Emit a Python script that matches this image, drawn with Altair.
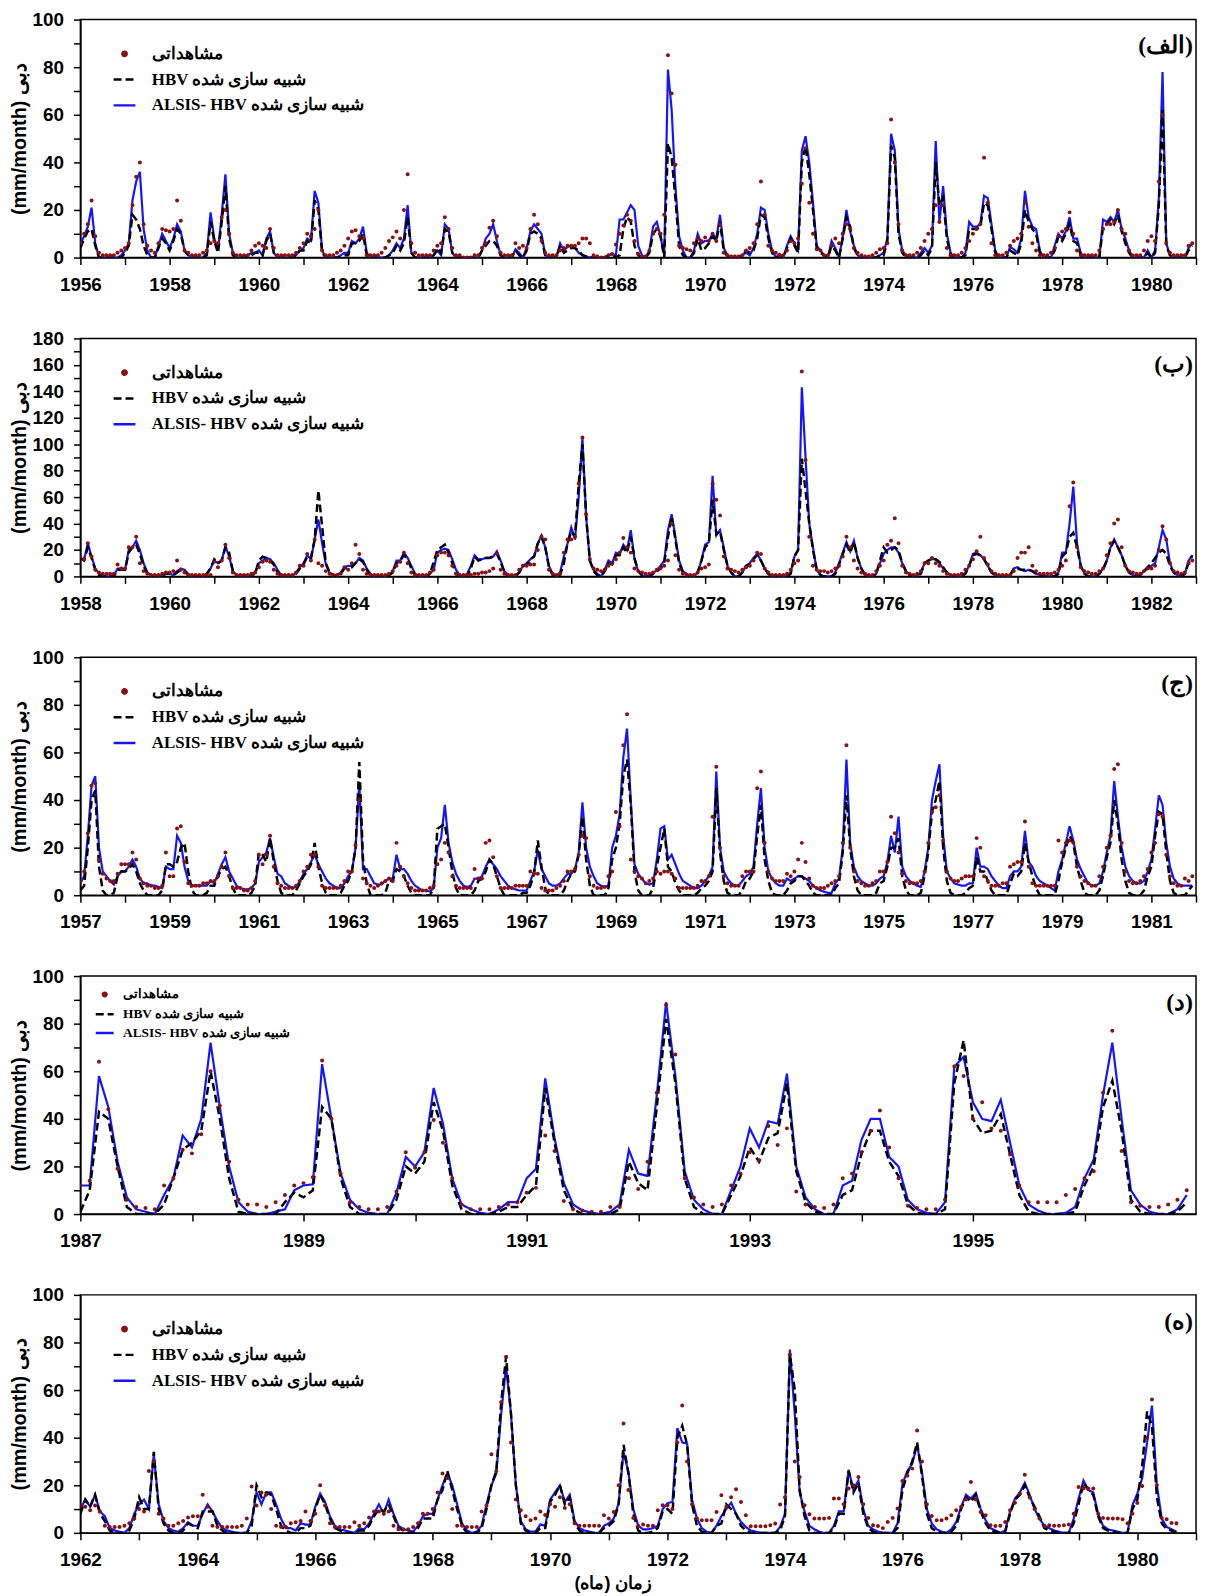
import altair as alt
import pandas as pd

OBS = "مشاهداتی"
HBV = "HBV شبیه سازی شده"
ALS = "ALSIS- HBV شبیه سازی شده"
SERIES = [OBS, HBV, ALS]
Y_TITLE = "(mm/month)  دبی"
X_TITLE = "زمان (ماه)"
PANEL_LABELS = ["(الف)", "(ب)", "(ج)", "(د)", "(ه)"]

# ---------------- panel 1 (1956-1980) ----------------
p1_start, p1_end, p1_ymax = 1956, 1981, 100
p1_als = [
    6, 9, 13, 21, 6, 0, 0, 0, 0, 0, 0, 1,
    3, 6, 24, 32, 36, 12, 3, 0, 0, 5, 10, 7,
    4, 8, 14, 11, 3, 1, 0, 0, 0, 0, 2, 19,
    8, 3, 18, 35, 10, 2, 0, 0, 0, 1, 2, 2,
    3, 1, 8, 11, 2, 0, 0, 0, 0, 1, 1, 3,
    4, 8, 7, 28, 23, 3, 0, 0, 0, 0, 1, 2,
    2, 7, 6, 8, 13, 2, 0, 0, 0, 0, 0, 1,
    3, 6, 4, 8, 22, 2, 0, 0, 0, 0, 0, 1,
    3, 1, 14, 12, 2, 0, 0, 0, 0, 0, 0, 0,
    3, 8, 10, 14, 7, 1, 0, 0, 0, 3.5, 2, 0,
    4, 11, 14, 12, 10, 1, 0, 0, 0, 6, 3, 4.5,
    5, 4, 2, 1, 0.5, 0, 0, 0, 0, 0, 1, 1.5,
    1, 16, 16, 19, 22, 20, 5, 1, 0, 3, 13, 15,
    9, 1, 79, 62, 30, 9, 3, 0, 0, 3, 10, 6,
    7, 7, 10, 8, 18, 4, 1, 0, 0, 0, 1, 2,
    1, 4, 10, 21, 20, 10, 3, 0, 1.5, 0, 5, 9,
    6, 3, 45, 51, 40, 23, 5, 3, 1, 0, 7, 4,
    0, 9, 20, 11, 5, 1, 0, 0, 0, 0, 0, 1,
    2, 8, 52, 45, 12, 3, 1, 0, 0, 0, 2, 4,
    2, 5, 49, 15, 30, 10, 2, 0, 0, 0, 2, 15,
    13, 13, 14, 26, 25, 14, 3, 0, 0, 0, 4.5, 3.5,
    2, 8, 28, 17, 13, 12, 3, 0, 0, 0, 5, 10,
    8, 11, 17, 8, 8, 2, 0, 0, 0, 0, 0, 16,
    15, 17, 15, 20, 12, 8, 3, 0, 0, 0, 0, 3,
    0, 3, 25, 78, 6, 1, 0, 0, 0, 0, 4, 6,
]
p1_hbv = [
    4, 8, 11, 12, 5, 0, 0, 0, 0, 0, 0, 0,
    2, 5, 18, 16, 12, 5, 1, 0, 0, 4, 8, 6,
    3, 7, 12, 10, 3, 1, 0, 0, 0, 0, 1, 15,
    7, 2, 15, 30, 8, 1, 0, 0, 0, 0, 1, 2,
    2, 1, 7, 10, 2, 0, 0, 0, 0, 0, 1, 3,
    3, 7, 6, 24, 20, 2, 0, 0, 0, 0, 0, 1,
    1, 6, 6, 7, 10, 1, 0, 0, 0, 0, 0, 1,
    2, 5, 3, 6, 17, 2, 0, 0, 0, 0, 0, 1,
    4, 2, 12, 11, 2, 0, 0, 0, 0, 0, 0, 0,
    3, 5, 7, 7, 5, 1, 0, 0, 0, 3, 1, 0,
    3, 10, 11, 10, 8, 1, 0, 0, 0, 5, 2, 3,
    4, 4, 3, 1, 0.5, 0, 0, 0, 0, 0, 1, 1,
    0, 1, 12, 17, 15, 5, 1, 0, 0, 2, 10, 12,
    9, 0, 48, 42, 25, 5, 1, 0, 0, 2, 8, 3,
    4, 6, 9, 7, 15, 3, 0.5, 0, 0, 0, 1, 3,
    2, 3, 8, 18, 17, 8, 2, 0, 0.5, 0, 4, 8,
    5, 2, 40, 47, 35, 20, 4, 2, 1, 0, 5, 3,
    0, 8, 17, 13, 4, 1, 0, 0, 0, 0, 0, 1,
    1, 7, 47, 42, 10, 2, 0, 0, 0, 0, 1, 3,
    1, 4, 40, 22, 25, 8, 1, 0, 0, 0, 1, 12,
    12, 12, 13, 23, 22, 12, 2, 0, 0, 0, 3, 2,
    1, 6, 20, 15, 12, 10, 2, 0, 0, 0, 3, 9,
    7, 10, 14, 7, 6, 1, 0, 0, 0, 0, 0, 13,
    14, 16, 14, 18, 11, 6, 2, 0, 0, 0, 0, 2,
    0, 2, 22, 62, 5, 1, 0, 0, 0, 0, 3, 5,
]
p1_obs = [
    6, 10, 14, 24, 9, 2, 1, 1, 1, 1, 2, 3,
    4, 6, 22, 34, 40, 14, 5, 3, 2, 6, 12, 11.5,
    11, 12, 24, 15.5, 3, 2, 1, 1, 1, 2, 3, 6,
    7, 6, 17, 20, 10, 2, 1, 1, 1, 1, 3, 5,
    6, 5, 4, 12, 4, 1, 1, 1, 1, 1, 2, 4,
    6, 10, 9, 12, 20, 3, 1, 1, 1, 2, 3, 5,
    8, 11, 11.5, 9, 8, 1, 1, 1, 1, 2, 4, 7,
    8.5, 11, 8, 20, 35, 6, 2, 1, 1, 1, 1, 3,
    5, 6, 17, 12, 4, 1, 1, 0, 0, 0, 1, 1,
    4, 6, 12.5, 15.5, 9, 2, 1, 1, 1, 6, 4, 5,
    4, 12, 18, 14, 7, 2, 1, 1, 1, 3, 4, 5,
    5, 5, 6, 8, 8, 6, 1, 0.5, 0, 0, 1, 1.5,
    5.5, 10, 13.5, 18, 15.5, 7, 1.5, 0.5, 0.5, 3, 10, 12,
    10, 18, 85, 69, 39, 5, 4, 3.5, 3, 6, 8, 7,
    8.5, 7, 10, 7, 14, 2, 1, 0.5, 0.5, 0.5, 1, 3,
    4, 6, 14, 32, 18, 5, 3, 2, 1, 1, 3, 7,
    6, 8, 31, 46, 23, 10, 3.5, 3, 1, 1, 5, 8,
    6, 10, 14, 12, 4, 2, 1, 0.5, 0.5, 1, 2, 3.5,
    4, 6, 58, 40, 14, 3, 1, 1, 1, 2, 4, 7,
    10, 12, 22, 15, 22, 4, 1, 1, 1, 2, 4, 7,
    10, 12, 14, 42, 23, 6, 1, 1, 1, 2, 5, 7,
    8, 10, 23, 13, 6, 3, 1, 1, 1, 2, 4, 9,
    11, 12, 19, 10, 3, 1, 1, 1, 1, 1, 3, 12,
    14, 14, 15, 20, 12, 10, 3, 1, 1, 1, 3, 7,
    9, 7, 32, 60, 6, 2, 1, 1, 1, 1, 5, 6,
]

# ---------------- panel 2 (1958-1982) ----------------
p2_start, p2_end, p2_ymax = 1958, 1983, 180
p2_als = [
    13, 13, 25, 15, 6, 2, 0.5, 0, 0, 0.5, 6, 6,
    5, 20, 22, 27, 20, 10, 3, 1, 0, 0, 1, 2,
    2, 1, 4, 6, 5, 2, 0, 0, 0, 0, 2, 6,
    12, 10, 12, 23, 15, 4, 1, 0, 0, 0, 1, 3,
    10, 12, 14, 13, 10, 5, 1, 0, 0, 0, 3, 7,
    10, 16, 13, 28, 43, 25, 9, 3, 1, 1, 3, 7,
    8, 8, 10, 14, 12, 6, 2, 0, 0, 0, 0, 1,
    4, 12, 12, 18, 14, 8, 2, 0, 0, 0, 2, 5,
    18, 20, 21, 20, 13, 5, 1, 0, 2, 8, 16, 13,
    13, 14, 14, 15, 19, 12, 4, 1, 0, 0, 3, 8,
    10, 13, 15, 25, 31, 22, 8, 2, 0, 3, 15, 25,
    37, 28, 60, 105, 45, 12, 5, 2, 0, 5, 12, 10,
    18, 17, 24, 20, 35, 13, 4, 1, 0, 0, 2, 5,
    8, 12, 35, 47, 30, 12, 4, 2, 0, 0, 3, 12,
    24, 26, 76, 31, 35, 22, 8, 3, 0, 0, 3, 8,
    10, 14, 17, 12, 6, 2, 0, 0, 0, 0, 0, 3,
    15, 20, 143, 90, 40, 22, 5, 1, 0, 0, 0, 3,
    10, 18, 26, 19, 27, 14, 6, 1, 0, 0, 2, 10,
    17, 20, 22, 22, 18, 10, 4, 1, 0, 0, 3, 10,
    12, 13, 13, 10, 6, 3, 1, 0, 0, 0, 3, 8,
    17, 18, 16, 13, 8, 3, 1, 0, 0, 0, 0, 6,
    7, 5, 4, 5, 4, 2, 1, 0, 0, 0, 0, 3,
    18, 18, 40, 68, 25, 8, 2, 0, 0, 0, 2, 6,
    12, 22, 28, 22, 16, 8, 3, 1, 0, 1, 4, 6,
    8, 10, 22, 35, 28, 10, 3, 1, 0, 2, 12, 16,
]
p2_hbv = [
    14, 12, 22, 14, 5, 1, 0, 0, 0, 0, 5, 5,
    5, 18, 22, 24, 17, 8, 2, 0, 0, 0, 1, 2,
    2, 1, 3, 5, 4, 1, 0, 0, 0, 0, 2, 6,
    13, 10, 12, 22, 18, 4, 1, 0, 0, 0, 1, 2,
    12, 15, 14, 12, 9, 3, 0, 0, 0, 0, 2, 6,
    9, 15, 14, 28, 65, 38, 10, 3, 1, 0, 2, 6,
    7, 7, 10, 13, 11, 5, 1, 0, 0, 0, 0, 1,
    3, 10, 12, 16, 13, 6, 1, 0, 0, 0, 2, 11,
    20, 22, 24, 18, 10, 2, 0, 0, 0, 6, 15, 12,
    13, 14, 14, 15, 17, 11, 3, 0, 0, 0, 3, 8,
    8, 13, 15, 25, 30, 22, 7, 1, 0, 1, 10, 25,
    34, 30, 70, 100, 45, 12, 4, 1, 0, 4, 10, 9,
    16, 16, 22, 18, 30, 14, 4, 1, 0, 0, 2, 4,
    6, 10, 30, 45, 28, 10, 3, 1, 0, 0, 3, 12,
    22, 25, 58, 32, 34, 20, 8, 3, 0, 0, 3, 8,
    9, 13, 16, 12, 6, 2, 0, 0, 0, 0, 0, 2,
    15, 20, 89, 65, 40, 20, 5, 1, 0, 0, 0, 2,
    9, 17, 24, 18, 26, 14, 6, 1, 0, 0, 2, 12,
    22, 18, 20, 22, 20, 10, 4, 1, 0, 0, 2, 10,
    12, 13, 13, 11, 7, 3, 1, 0, 0, 0, 2, 8,
    16, 17, 16, 13, 8, 3, 1, 0, 0, 0, 1, 6,
    6, 5, 5, 5, 4, 2, 1, 0, 0, 0, 0, 2,
    15, 18, 30, 33, 22, 8, 2, 0, 0, 0, 2, 5,
    12, 22, 27, 22, 16, 8, 3, 1, 0, 1, 4, 7,
    10, 14, 18, 20, 17, 8, 3, 1, 0, 2, 10, 16,
]
p2_obs = [
    15, 13, 25, 15, 5, 3, 2, 2, 2, 2, 9, 6,
    6, 22, 22, 30, 10, 4, 2, 1, 1, 1, 2, 3,
    3, 4, 12, 5, 3, 1, 1, 1, 1, 1, 1, 1,
    11, 7, 12, 24, 14, 3, 1, 1, 1, 1, 2, 3,
    7, 11, 12, 11, 5, 2, 1, 1, 1, 1, 3, 8,
    8, 17, 12, 28, 10, 8, 4, 2, 1, 1, 2, 7,
    5, 10, 24, 17, 5, 2, 1, 1, 1, 1, 1, 2,
    4, 8, 11, 18, 10, 3, 1, 1, 1, 1, 3, 5,
    16, 18, 18, 16, 8, 2, 1, 1, 1, 1, 2, 2,
    3, 3, 4, 6, 17, 5, 2, 1, 1, 1, 5, 8,
    8, 9, 9, 20, 30, 28, 5, 2, 1, 2, 18, 28,
    28, 30, 70, 105, 47, 13, 6, 5, 4, 5, 8, 10,
    13, 18, 29, 22, 18, 6, 4, 3, 2, 2, 3, 5,
    6, 8, 12, 40, 16, 5, 2, 1, 1, 1, 3, 6,
    7, 9, 70, 58, 46, 15, 6, 5, 4, 3, 5, 7,
    8, 12, 18, 17, 6, 3, 1, 1, 1, 1, 2, 5,
    10, 12, 155, 88, 30, 8, 5, 4, 4, 3, 4, 6,
    8, 15, 30, 22, 12, 6, 3, 2, 1, 1, 4, 8,
    12, 24, 27, 44, 25, 8, 3, 2, 1, 2, 4, 10,
    10, 14, 10, 8, 4, 2, 1, 1, 1, 2, 5, 8,
    13, 19, 30, 14, 9, 4, 2, 1, 1, 1, 1, 4,
    14, 18, 18, 22, 8, 4, 2, 2, 2, 2, 3, 5,
    8, 12, 53, 71, 22, 7, 4, 3, 2, 2, 4, 6,
    16, 25, 40, 43, 22, 8, 4, 3, 2, 2, 4, 6,
    6, 8, 20, 38, 28, 10, 4, 3, 2, 3, 10, 12,
]

# ---------------- panel 3 (1957-1981) ----------------
p3_start, p3_end, p3_ymax = 1957, 1982, 100
p3_als = [
    5, 8, 25, 46, 50, 20, 10, 8, 6, 4.5, 8, 10,
    10, 12, 15, 12, 7, 5, 5, 4, 4, 3.5, 3, 12,
    11, 11, 25, 22, 12, 6, 4, 4, 4, 4, 4, 6,
    5, 9, 13, 16, 10, 7, 4, 3, 2.5, 2.5, 3, 5,
    14, 16, 18, 24, 16, 9, 8, 5, 4, 3, 3.5, 6,
    9, 11, 14, 17, 13, 10, 7, 5, 4, 3, 3, 5,
    8, 10, 20, 47, 11, 11, 8, 5, 4.5, 4.5, 6, 7,
    7, 17, 11, 11, 9, 6, 4, 3, 2, 2, 1.5, 3,
    20, 24, 38, 22, 14, 9, 6, 4, 3.5, 4, 7, 7,
    8, 12, 15, 13, 11, 8, 6, 4, 3, 2.5, 2, 2,
    2, 6, 10, 19, 11, 8, 5, 4, 4, 5, 7, 9,
    9, 11, 18, 39, 20, 12, 8, 5, 4, 3.5, 4, 20,
    25, 34, 58, 70, 40, 13, 9, 7, 5, 4.5, 5, 15,
    28, 29, 15, 17, 13, 9, 6, 5, 4, 3, 3, 4,
    6, 8, 12, 52, 20, 10, 7, 5, 4, 4, 6, 8,
    9, 12, 30, 45, 20, 10, 7, 5, 4, 4, 7, 6,
    7, 8, 8, 7, 6, 4, 3, 2, 1.5, 1, 1, 5,
    7, 20, 57, 22, 12, 8, 6, 5, 4, 4, 5, 7,
    8, 14, 25, 18, 33, 12, 8, 6, 5, 4, 3.5, 10,
    20, 40, 48, 55, 25, 10, 7, 5, 4.5, 4, 4, 5,
    5, 20, 12, 12, 11, 8, 6, 4, 3, 3, 8, 10,
    10, 12, 27, 14, 12, 8, 6, 5, 4, 3, 2, 10,
    15, 22, 29, 23, 15, 11, 8, 5, 4, 4, 5, 10,
    18, 25, 48, 33, 20, 12, 8, 6, 5, 5, 6, 10,
    15, 28, 42, 38, 22, 12, 7, 5, 4, 4, 4, 4,
]
p3_hbv = [
    2, 4, 20, 40, 44, 12, 2, 0, 0, 1, 8, 10,
    10, 11, 13, 10, 5, 2, 0, 0, 0, 0, 2, 13,
    13, 12, 14, 20, 22, 10, 2, 0, 0, 0, 1, 4,
    4, 8, 11, 12, 8, 3, 0, 0, 0, 0, 1, 4,
    18, 17, 14, 24, 14, 6, 1, 0, 0, 0, 2, 5,
    8, 10, 13, 22, 12, 5, 1, 0, 0, 0, 1, 4,
    6, 10, 20, 56, 15, 5, 0, 0, 0, 0, 1, 6,
    6, 11, 10, 8, 4, 1, 0, 0, 0, 0, 0, 3,
    28, 29, 30, 20, 10, 3, 0, 0, 0, 0, 2, 6,
    7, 10, 15, 13, 8, 3, 0, 0, 0, 0, 0, 1,
    1, 4, 9, 23, 12, 3, 0, 0, 0, 0, 2, 6,
    9, 10, 17, 33, 15, 4, 0, 0, 0, 0, 3, 15,
    20, 30, 50, 57, 38, 10, 2, 0, 0, 0, 3, 12,
    20, 28, 12, 10, 5, 2, 0, 0, 0, 0, 1, 3,
    4, 6, 10, 45, 18, 6, 1, 0, 0, 0, 2, 6,
    7, 10, 25, 38, 15, 6, 1, 0, 0, 0, 2, 5,
    6, 8, 8, 6, 4, 1, 0, 0, 0, 0, 0, 3,
    5, 18, 42, 20, 8, 2, 0, 0, 0, 0, 1, 5,
    6, 12, 20, 20, 24, 8, 2, 0, 0, 0, 1, 8,
    18, 35, 40, 48, 20, 6, 1, 0, 0, 0, 1, 3,
    4, 16, 10, 10, 6, 2, 0, 0, 0, 0, 5, 9,
    8, 10, 22, 14, 8, 3, 0, 0, 0, 0, 0, 6,
    14, 20, 25, 22, 12, 6, 1, 0, 0, 0, 2, 8,
    16, 22, 40, 30, 15, 6, 1, 0, 0, 0, 2, 8,
    12, 25, 35, 34, 18, 6, 1, 0, 0, 0, 2, 4,
]
p3_obs = [
    6, 10, 26, 46, 47, 15, 9, 7, 6, 6, 9, 13,
    13, 13, 18, 15, 7, 5, 4, 4, 3, 3, 4, 18,
    8, 8, 28, 29, 14, 5, 4, 4, 4, 5, 5, 6,
    6, 8, 12, 18, 8, 3, 3, 3, 2, 2, 3, 6,
    17, 13, 17, 25, 12, 5, 4, 3, 3, 3, 4, 6,
    10, 12, 17, 17, 12, 4, 3, 3, 3, 3, 4, 6,
    10, 10, 21, 40, 7, 5, 4, 3, 4, 5, 6, 7,
    6, 22, 12, 8, 5, 3, 2, 2, 2, 2, 3, 4,
    13, 15, 22, 18, 8, 4, 3, 3, 3, 3, 11, 7,
    7, 22, 23, 16, 8, 3, 3, 3, 3, 4, 4, 4,
    4, 10, 9, 9, 3, 2, 2, 2, 3, 4, 6, 10,
    10, 11, 17, 25, 24, 8, 4, 3, 3, 3.5, 8, 10,
    35, 29, 63, 76, 15, 10, 8, 7, 5, 6, 7, 10,
    9, 10, 10, 9, 7, 3, 3, 3, 3, 3, 4, 6,
    6, 8, 33, 54, 20, 8, 5, 4, 4, 4, 8, 10,
    10, 10, 45, 52, 22, 10, 7, 6, 6, 6, 9, 8,
    10, 15, 22, 14, 7, 4, 3, 3, 3, 4, 5, 6,
    8, 22, 63, 20, 10, 6, 5, 4, 4, 5, 6, 10,
    10, 14, 33, 26, 18, 9, 6, 5, 5, 5, 6, 10,
    22, 35, 37, 42, 23, 10, 7, 6, 6, 7, 8, 8,
    8, 24, 20, 8, 6, 4, 4, 4, 5, 5, 12, 13,
    14, 14, 31, 12, 5, 4, 4, 4, 4, 4, 4, 23,
    18, 22, 23, 22, 12, 8, 6, 5, 4, 4, 8, 12,
    20, 25, 53, 55, 22, 10, 6, 5, 5, 6, 8, 11,
    18, 22, 34, 33, 17, 8, 5, 4, 4, 7, 6, 8,
]

# ---------------- panel 4 (1987-1996) ----------------
p4_start, p4_end, p4_ymax = 1987, 1997, 100
p4_als = [
    12, 12, 58, 45, 22, 7, 2, 1, 0, 8, 15, 33,
    28, 40, 72, 45, 20, 5, 1, 0, 0, 1, 2, 10,
    12, 12.5, 63, 40, 17, 6, 2, 0.5, 0, 0, 9, 24,
    20, 26, 53, 38, 15, 4, 2, 0.5, 0, 2, 5, 5,
    15, 19, 57, 32, 13, 4, 1.5, 0.5, 0, 1, 4, 27,
    17, 16, 50, 89, 58, 18, 6, 2, 0, 0, 10, 20,
    36, 28, 39, 38, 59, 20, 7, 2, 0, 0, 12, 14,
    31, 40, 40, 24, 20, 6, 2, 0.5, 0, 5, 62, 66,
    47, 40, 39, 48, 30, 12, 4, 1.5, 0, 0, 0.5, 3,
    15, 23, 50, 72, 40, 10, 4, 1, 0, 0, 2, 8,
]
p4_hbv = [
    1, 10, 43, 40, 20, 3, 0, 0, 0, 4, 15, 27,
    30, 35, 60, 40, 15, 1, 0, 0, 0, 0, 5, 9,
    7, 10, 45, 40, 15, 3, 0, 0, 0, 0, 6, 20,
    17, 22, 47, 35, 12, 2, 0, 0, 0, 1, 3, 3,
    8, 12, 53, 30, 10, 2, 0, 0, 0, 0, 2, 22,
    13, 10, 45, 82, 55, 15, 3, 0, 0, 0, 8, 16,
    28, 22, 32, 34, 55, 18, 5, 1, 0, 0, 8, 10,
    25, 35, 35, 22, 16, 4, 0.5, 0, 0, 2, 55, 73,
    40, 34, 35, 42, 25, 8, 1, 0, 0, 0, 0, 1,
    12, 20, 45, 56, 35, 6, 1, 0, 0, 0, 1, 5,
]
p4_obs = [
    12, 14, 64, 44, 19, 6, 3, 2.5, 2, 12, 15, 27,
    25.5, 33.5, 60, 45.5, 22, 6, 4, 4, 3, 5, 8, 12,
    13, 15.5, 64.5, 40, 17, 5, 3, 2, 2, 3, 9.5, 26,
    19.5, 26, 39.5, 30, 15, 4, 2, 2, 2, 3, 4, 5,
    9, 11, 33, 26.5, 5.5, 2, 1.5, 1, 1, 3, 3, 15,
    10.5, 22, 51, 88, 67, 15, 7, 4, 3, 4, 12, 17,
    26, 22.5, 37, 29, 36, 9.5, 4, 3, 2.5, 4, 15, 17,
    26, 35, 43.5, 28, 15, 3.5, 2.5, 2, 2, 6, 62, 58,
    40, 47, 36, 35, 25, 12, 5, 5, 5, 5, 8, 10.5,
    15, 18, 51, 77, 26.5, 5, 3.5, 3, 3, 4, 6, 10,
]

# ---------------- panel 5 (1962 - Sep 1980) ----------------
p5_start, p5_end, p5_ymax = 1962, 1981, 100
p5_als = [
    10, 14, 11, 16, 9, 7, 2, 1, 0.5, 0, 2, 8,
    12, 14, 10, 33, 12, 5, 2, 1, 0.5, 2, 4.5, 3,
    3, 8, 12, 9, 5, 2, 1, 0.5, 0, 0, 0, 5,
    17, 12, 17, 17, 12, 6, 2, 2, 1, 4, 3.5, 3.5,
    11, 16.5, 13, 7, 3, 1.5, 1, 0.5, 0, 2, 1.5, 4,
    8, 12, 8, 14, 8, 3, 1.5, 1, 0.5, 3, 7, 8,
    8, 14, 20, 25, 20, 12, 4, 1, 0, 0.5, 3, 12,
    20, 25, 50, 70, 50, 20, 5, 1.5, 0.5, 0.5, 3.5, 3,
    14, 17, 20, 13, 16, 5, 2, 1, 0.5, 0, 0, 3,
    4, 6, 12.5, 34, 25.5, 10, 3, 1.5, 1.5, 2, 3, 10,
    12.5, 13, 44, 38, 37.5, 14, 6, 2, 0.5, 0, 3, 7,
    10, 12.7, 8, 4.6, 2.5, 1, 0.5, 0, 0, 0, 0, 2.5,
    8, 77, 50, 17, 9, 3, 1.5, 0.5, 0, 0, 3, 9,
    9, 26.5, 18, 22, 10, 3, 1.5, 0.5, 0, 0, 0, 4,
    20.5, 26, 29, 37, 25.5, 10, 4, 1.5, 0.5, 0, 1.5, 4.6,
    11, 16, 14.4, 16.8, 10, 5.3, 2, 1, 0, 1, 9, 14.4,
    17, 21, 16, 10, 6, 3, 2, 1, 0.5, 0, 0, 6,
    14.4, 22, 18, 17, 8, 3, 1.5, 1, 0.5, 0, 0, 11.6,
    16.5, 23, 38, 53.5, 20, 6, 2.5, 1.5, 0.5,
]
p5_hbv = [
    8, 14, 11, 16, 8, 5, 1, 0, 0, 0, 1, 6,
    15, 10, 10, 34, 10, 4, 1, 0, 0, 1, 4, 3,
    2, 9, 9, 9, 3, 1, 0, 0, 0, 0, 0, 3,
    20, 15, 17, 16, 10, 3, 1, 0, 0, 2, 2, 3,
    10, 16, 12, 6, 2, 1, 0, 0, 0, 1, 1, 3,
    7, 10, 9, 12, 7, 2, 1, 0, 0, 2, 6, 6,
    6, 14, 18, 26, 18, 10, 3, 0, 0, 0, 2, 10,
    20, 26, 55, 74, 50, 20, 4, 1, 0, 0, 2, 2,
    13, 16, 20, 12, 15, 4, 1, 0, 0, 0, 0, 2,
    3, 5, 12, 37, 25, 8, 1, 0, 0, 0.5, 2, 9,
    10, 8, 40, 45, 37, 12, 3, 0.5, 0, 0, 3, 4,
    12, 10, 8, 3, 1, 0, 0, 0, 0, 0, 0, 1,
    7, 75, 60, 18, 7, 1, 0, 0, 0, 0, 2, 8,
    8, 26, 17, 21, 8, 2, 0.5, 0, 0, 0, 0, 2,
    18, 25, 30, 38, 24, 8, 2, 0.5, 0, 0, 0.5, 3,
    10, 15, 13, 16, 9, 4, 1, 0.5, 0, 0.5, 8, 14,
    16, 20, 15, 11, 7, 2, 1, 0.5, 0, 0, 0, 4,
    12, 21, 18, 16, 7, 2, 1, 0.5, 0, 0, 0, 10,
    14, 28, 51, 45, 15, 4, 1.5, 1, 0,
]
p5_obs = [
    11.5, 11, 9.5, 11.5, 9, 3, 2.5, 2.5, 2.5, 3, 4, 6,
    10, 9, 26, 30, 8, 6, 3, 3, 4, 5, 6.5, 7,
    7, 16, 11, 3, 2.5, 2.5, 2.5, 2.5, 2.5, 3, 6, 19.5,
    11.5, 17, 16, 10, 3, 2.5, 2.5, 4, 4.5, 5, 9, 5,
    8, 20, 11.5, 4, 2.5, 2.5, 2.5, 2.5, 4.5, 3, 4, 6.5,
    9, 9, 8, 9, 3, 1.5, 1.5, 1.5, 2.5, 4, 8, 8,
    10, 17, 25, 23, 10, 3, 3, 2.5, 2.5, 2.5, 9, 11.5,
    33, 26, 55, 74, 38, 14, 9.5, 7, 5.3, 6, 9, 7.5,
    12, 11, 15, 10.5, 12, 4, 3, 3, 3, 3, 3, 7.4,
    6, 8.8, 20, 46, 18, 6.3, 3, 3.5, 3, 3, 9.5, 11.6,
    11.6, 10, 38, 53.5, 30, 12, 6, 5.3, 5.3, 5.3, 8.8, 15.8,
    11, 15, 18.3, 13, 7.4, 2.8, 2.8, 2.8, 2.8, 3.2, 3.9, 11.9,
    15, 75, 30, 23.5, 11.6, 7.8, 6, 6, 6, 6.3, 14.4, 14.4,
    12, 18.6, 20, 23.5, 12, 6.3, 3.2, 2.9, 2, 4.6, 6.3, 10.2,
    21.8, 24, 27, 43, 30, 12, 7.1, 5.3, 5.3, 6, 7.4, 9.5,
    11, 14, 21.4, 14, 8.8, 7.4, 3.2, 2.9, 3, 4.6, 9.5, 12.7,
    16.5, 24.4, 15, 10, 6, 3, 3.2, 3, 3, 3.2, 3.5, 8,
    19.3, 18.6, 18.6, 18.6, 8, 6.3, 6, 6, 6, 5.7, 4, 8,
    12.6, 19.7, 40, 56, 20, 6.3, 5.7, 4.2, 4,
]

# ---------------- styling ----------------
W, H = 1125, 240
OBS_COLOR = "#8b1010"
BLUE = "#1414ff"
CIRCLE = "M -0.2 0 A 0.2 0.2 0 1 1 0.2 0 A 0.2 0.2 0 1 1 -0.2 0 Z"


def long_frame(start, values, name):
    return pd.DataFrame({
        "t": [start + i / 12.0 for i in range(len(values))],
        "v": values,
        "s": [name] * len(values),
    })


def panel(start, end, ymax, obs, hbv, als, label, small=False, last=False):
    d_obs = long_frame(start, obs, OBS)
    d_hbv = long_frame(start, hbv, HBV)
    d_als = long_frame(start, als, ALS)

    years = list(range(start, end)) if small else list(range(start, end + 1))
    x_axis = alt.Axis(
        values=years,
        format="d",
        labelFlush=False,
        labelExpr=f"(datum.value - {start}) % 2 == 0 ? datum.label : ''",
        title=X_TITLE if last else None,
        titleX=537,
        titleAlign="center",
        titleFontSize=18,
        titlePadding=5,
    )
    y_axis = alt.Axis(
        values=list(range(0, ymax + 1, 10)),
        labelExpr="datum.value % 20 == 0 ? datum.label : ''",
        title=Y_TITLE,
    )
    x = alt.X("t:Q", scale=alt.Scale(domain=[start, end], nice=False, zero=False), axis=x_axis)
    y = alt.Y("v:Q", scale=alt.Scale(domain=[0, ymax], nice=False), axis=y_axis)

    if small:
        leg = dict(legendX=14, legendY=8, symbolSize=324, labelFontSize=13.5, rowPadding=2, labelOffset=8)
    else:
        leg = dict(legendX=32, legendY=22, symbolSize=484, labelFontSize=17, rowPadding=5, labelOffset=15)
    legend = alt.Legend(
        title=None, orient="none", padding=0, labelLimit=0,
        labelFont="Liberation Serif", labelFontWeight="bold", labelColor="black",
        symbolStrokeWidth=2.5, **leg,
    )
    color = alt.Color("s:N", scale=alt.Scale(domain=SERIES, range=[OBS_COLOR, "black", BLUE]), legend=legend)
    dash = alt.StrokeDash("s:N", scale=alt.Scale(domain=SERIES, range=[[1, 0], [8, 4], [1, 0]]), legend=legend)
    shape = alt.Shape("s:N", scale=alt.Scale(domain=SERIES, range=[CIRCLE, "stroke", "stroke"]), legend=legend)

    line_als = alt.Chart(d_als).mark_line(strokeWidth=2.2, clip=True).encode(x=x, y=y, color=color, strokeDash=dash)
    line_hbv = alt.Chart(d_hbv).mark_line(strokeWidth=2.5, clip=True).encode(x=x, y=y, color=color, strokeDash=dash)
    pts = alt.Chart(d_obs).mark_point(filled=True, size=400, opacity=1, strokeWidth=0, clip=True).encode(
        x=x, y=y, color=color, shape=shape)
    lab = alt.Chart(pd.DataFrame({"lab": [label]})).mark_text(
        align="right", baseline="middle", fontSize=24, fontWeight="bold",
        font="Liberation Serif", color="black",
    ).encode(text="lab:N", x=alt.value(W - 3), y=alt.value(27))

    return alt.layer(line_als, line_hbv, pts, lab).properties(width=W, height=H)


panels = [
    panel(p1_start, p1_end, p1_ymax, p1_obs, p1_hbv, p1_als, PANEL_LABELS[0]),
    panel(p2_start, p2_end, p2_ymax, p2_obs, p2_hbv, p2_als, PANEL_LABELS[1]),
    panel(p3_start, p3_end, p3_ymax, p3_obs, p3_hbv, p3_als, PANEL_LABELS[2]),
    panel(p4_start, p4_end, p4_ymax, p4_obs, p4_hbv, p4_als, PANEL_LABELS[3], small=True),
    panel(p5_start, p5_end, p5_ymax, p5_obs, p5_hbv, p5_als, PANEL_LABELS[4], last=True),
]

chart = alt.vconcat(*panels, spacing=81.5, bounds="flush").resolve_scale(
    color="independent", shape="independent", strokeDash="independent"
).resolve_legend(
    color="independent", shape="independent", strokeDash="independent"
).properties(
    padding={"left": 0, "top": -5, "right": 0, "bottom": 0}, background="white"
).configure_view(
    stroke="black", strokeWidth=1.5
).configure_axis(
    grid=False,
    domainColor="black", domainWidth=1.5,
    tickColor="black", tickWidth=1.5, tickSize=7,
    labelFont="Liberation Sans", labelFontWeight="bold", labelFontSize=19, labelColor="black",
    titleFont="Liberation Sans", titleFontWeight="bold", titleFontSize=20, titleColor="black",
).configure_axisY(
    labelPadding=10, titlePadding=3,
).configure_axisX(
    labelPadding=11,
)

chart.save("out.html", embed_options={"renderer": "svg", "actions": False})
